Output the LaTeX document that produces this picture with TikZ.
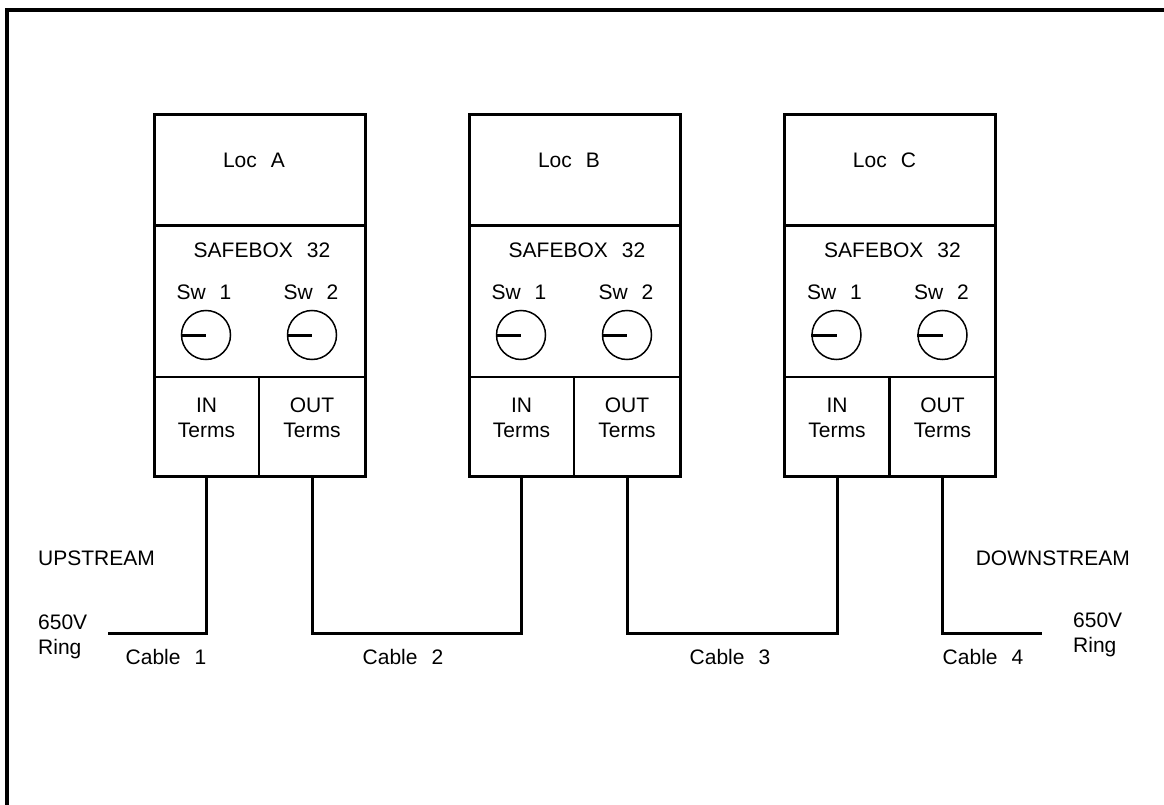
\documentclass[tikz,border=0pt]{standalone}
\usepackage{fontspec}
\setmainfont{Liberation Sans}[WordSpace=2.4]
\begin{document}
\begin{tikzpicture}[x=1pt,y=-1pt,
  txt/.style={font=\fontsize{21}{25}\selectfont, inner sep=0pt, align=center},
  cell/.style={draw, line width=2.2pt, inner sep=0pt, outer sep=0pt, anchor=north west},
  outerbox/.style={draw, line width=3pt, inner sep=0pt, outer sep=0pt, anchor=north west, minimum width=211, minimum height=361.5},
  knob/.style={draw, circle, line width=1.5pt, minimum size=49, inner sep=0pt},
  pointer/.style={line width=3pt},
  cable/.style={line width=3pt},
  frame/.style={line width=3.5pt}]
\useasboundingbox (0,0) rectangle (1164,805);
\draw[frame] (7,805) -- (7,10) -- (1164,10);

\foreach \n/\L in {A/154, B/469, C/784.5} {
  \node[cell, minimum width=211, minimum height=110.5] (loc\n) at (\L,115) {};
  \node[cell, minimum width=211, minimum height=151.5] (sb\n) at (\L,225.5) {};
  \node[cell, minimum width=105, minimum height=99.5] (in\n) at (\L,377) {};
  \node[cell, minimum width=106, minimum height=99.5] (out\n) at (\L+105,377) {};
  \node[outerbox] (box\n) at (\L,115) {};
  \node[txt] (loct\n) at (\L+100,160) {Loc \n};
  \node[txt] (sbt\n) at (\L+108,250) {SAFEBOX 32};
  \node[txt] (swta\n) at (\L+50,292) {Sw 1};
  \node[txt] (swtb\n) at (\L+157,292) {Sw 2};
  \node[knob] (swa\n) at (\L+52,335) {};
  \node[knob] (swb\n) at (\L+158,335) {};
  \draw[pointer] (swa\n.west) -- (swa\n.center);
  \draw[pointer] (swb\n.west) -- (swb\n.center);
  \node[txt] (int\n) at (\L+52.5,417.5) {IN\\Terms};
  \node[txt] (outt\n) at (\L+158,417.5) {OUT\\Terms};
}

\coordinate (bus) at (0,633);
\coordinate (c1end) at (108,633);
\coordinate (c4end) at (1042,633);

\draw[cable] (c1end) -- (inA.south |- bus) -- (inA.south);
\draw[cable] (outA.south) -- (outA.south |- bus) -- (inB.south |- bus) -- (inB.south);
\draw[cable] (outB.south) -- (outB.south |- bus) -- (inC.south |- bus) -- (inC.south);
\draw[cable] (outC.south) -- (outC.south |- bus) -- (c4end);

\node[txt, anchor=west] (up) at (38,558) {UPSTREAM};
\node[txt, anchor=west, align=left] (ringL) at (38,636.5) {650V\\Ring};
\node[txt, anchor=east] (down) at (1130,558) {DOWNSTREAM};
\node[txt, anchor=west, align=left] (ringR) at (1073,634.5) {650V\\Ring};

\node[txt] (cab1) at (166,657) {Cable 1};
\node[txt] (cab2) at (403,657) {Cable 2};
\node[txt] (cab3) at (730,657) {Cable 3};
\node[txt] (cab4) at (983,657) {Cable 4};
\end{tikzpicture}
\end{document}
